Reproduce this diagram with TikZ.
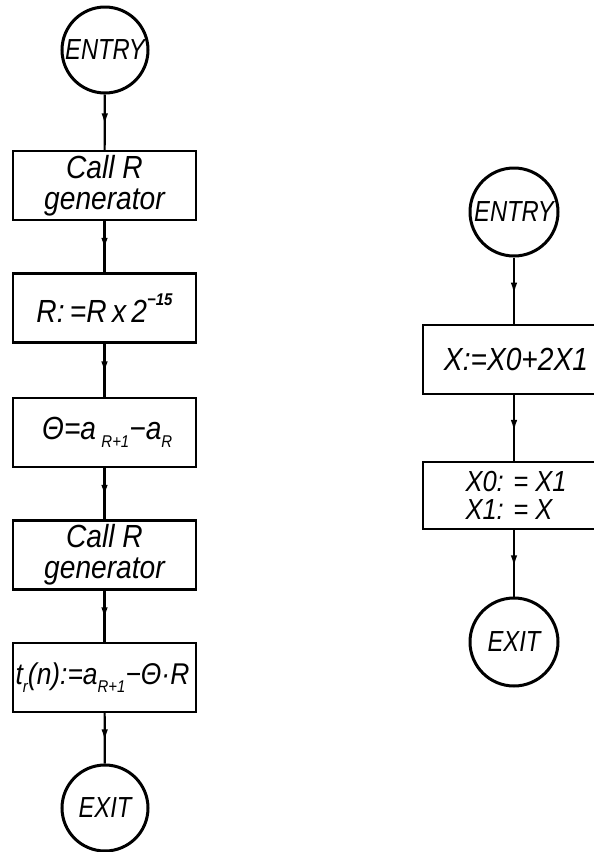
\documentclass[tikz,border=0pt]{standalone}
\usepackage{fontspec}
\setmainfont{Liberation Sans}[FakeStretch=0.82]
\newfontfamily\boxfont{Liberation Sans}[FakeStretch=0.88]
\usetikzlibrary{arrows.meta,decorations.markings}

% lowered index and raised exponent in the lettering
\newcommand\lowidx[1]{\raisebox{-0.5ex}{\fontsize{17}{17}\selectfont #1}}
\newcommand\highidx[1]{\raisebox{1.0ex}{\fontsize{17}{17}\selectfont\bfseries #1}}

\tikzset{
  every node/.style={font=\fontsize{29}{30}\selectfont\itshape},
  stepbox/.style={draw, line width=2.4pt, minimum width=183pt, minimum height=69pt,
                  inner sep=0pt, align=center, font=\boxfont\fontsize{32}{31}\selectfont\itshape},
  term/.style={draw, circle, line width=3pt, minimum size=86pt, inner sep=0pt},
  flow/.style={line width=2.2pt, postaction={decorate},
    decoration={markings, mark=at position 0.56 with {\arrow{Latex[length=12pt,width=6.5pt]}}}},
}

\begin{document}
\begin{tikzpicture}[x=1pt, y=-1pt]
  \useasboundingbox (0,0) rectangle (594,852);
  \clip (0,0) rectangle (594,852);

  % left chart
  \node[term] (entryL) at (105,50) {ENTRY};
  \node[stepbox] (b1) at (104.5,185.5) {Call R\\generator};
  \node[stepbox] (b2) at (104.5,308) {R:\,=R\,x\,2\highidx{−15}};
  \node[stepbox] (b3) at (104.5,432.5) {\,Θ=a\,\lowidx{R+1}−a\lowidx{R}};
  \node[stepbox] (b4) at (104.5,555) {Call R\\generator};
  \node[stepbox, font=\boxfont\fontsize{30}{30}\selectfont\itshape] (b5) at (104.5,677.5)
       {t\lowidx{r}(n):=a\lowidx{R+1}−Θ·R\hspace{4pt}};
  \node[term] (exitL) at (105,808) {EXIT};

  \draw[flow] (entryL) -- (b1);
  \draw[flow] (b1) -- (b2);
  \draw[flow] (b2) -- (b3);
  \draw[flow] (b3) -- (b4);
  \draw[flow] (b4) -- (b5);
  \draw[flow] (b5) -- (exitL);

  % right chart
  \node[term, minimum size=88pt] (entryR) at (514,212) {ENTRY};
  \node[stepbox, minimum width=186pt] (bA) at (516,359.5) {X:=X0+2X1};
  \node[stepbox, minimum width=186pt, minimum height=67pt, align=left,
        font=\boxfont\fontsize{29}{28}\selectfont\itshape] (bB) at (516,495.5) {X0: = X1\\X1: = X};
  \node[term, minimum size=88pt] (exitR) at (514,642) {EXIT};

  \draw[flow] (entryR) -- (entryR |- bA.north);
  \draw[flow] (bA.south -| entryR) -- (bB.north -| entryR);
  \draw[flow] (bB.south -| exitR) -- (exitR);
\end{tikzpicture}
\end{document}
